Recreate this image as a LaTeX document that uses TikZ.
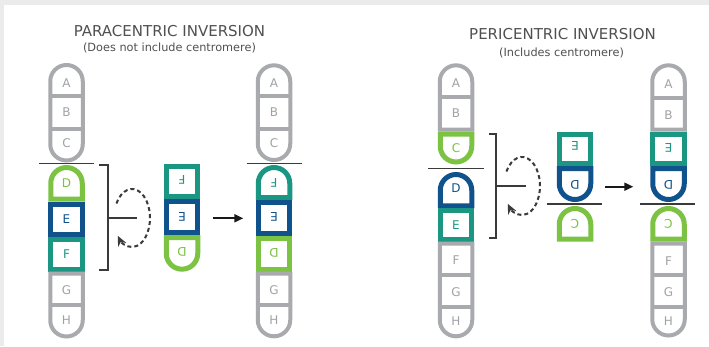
\documentclass[tikz,border=0pt]{standalone}
\usepackage{fontspec}
\setmainfont{DejaVu Sans}
\usetikzlibrary{arrows.meta}
\definecolor{cgray}{HTML}{A9AAAD}
\definecolor{cgreen}{HTML}{7CC243}
\definecolor{cblue}{HTML}{10528C}
\definecolor{cteal}{HTML}{1B9682}
\definecolor{ltxt}{HTML}{A0A2A5}
\definecolor{ttxt}{HTML}{505050}
\definecolor{bgstrip}{HTML}{EBEBEB}
\definecolor{darkln}{HTML}{3A3A3A}
\newcommand{\SqBlk}[4]{\draw[cblk=#4] ({#1-15.75},{#2+2.5}) rectangle ({#1+15.75},{#3-2.5});}
\newcommand{\RtBlk}[4]{\draw[cblk=#4] ({#1-15.75},{#3-2.5}) -- ({#1-15.75},{#2+18.25}) arc[start angle=180,end angle=0,radius=15.75pt] -- ({#1+15.75},{#3-2.5}) -- cycle;}
\newcommand{\RbBlk}[4]{\draw[cblk=#4] ({#1-15.75},{#2+2.5}) -- ({#1-15.75},{#3-18.25}) arc[start angle=180,end angle=360,radius=15.75pt] -- ({#1+15.75},{#2+2.5}) -- cycle;}
\newcommand{\GArmBoth}[3]{\draw[garm] ({#1-16.25},{#3-18.25}) -- ({#1-16.25},{#2+18.25}) arc[start angle=180,end angle=0,radius=16.25pt] -- ({#1+16.25},{#3-18.25}) arc[start angle=0,end angle=-180,radius=16.25pt] -- cycle;}
\newcommand{\GArmTop}[3]{\draw[garm] ({#1-16.25},{#3-2}) -- ({#1-16.25},{#2+18.25}) arc[start angle=180,end angle=0,radius=16.25pt] -- ({#1+16.25},{#3-2}) -- cycle;}
\newcommand{\GArmBot}[3]{\draw[garm] ({#1-16.25},{#2+2}) -- ({#1-16.25},{#3-18.25}) arc[start angle=180,end angle=360,radius=16.25pt] -- ({#1+16.25},{#2+2}) -- cycle;}
\newcommand{\GDiv}[2]{\draw[garm] ({#1-16.25},#2) -- ({#1+16.25},#2);}
\begin{document}
\begin{tikzpicture}[x=1pt,y=-1pt,
  cblk/.style={line width=5pt, draw=#1, fill=white},
  garm/.style={line width=4pt, draw=cgray, fill=white},
  cenline/.style={line width=1.5pt, draw=darkln},
  brk/.style={line width=2pt, draw=darkln},
  rotarr/.style={line width=2pt, draw=darkln, dash pattern=on 4pt off 3pt, -{Stealth[length=10pt,width=9pt]}},
  harr/.style={line width=1.8pt, draw=black!90, -{Triangle[length=9pt,width=8pt]}},
  lt/.style={font=\fontsize{12}{14}\selectfont, inner sep=0pt, text=ltxt},
  ttl/.style={font=\fontsize{15}{18}\selectfont, inner sep=0pt, text=ttxt},
  sub/.style={font=\fontsize{11.3}{13}\selectfont, inner sep=0pt, text=ttxt}]
\useasboundingbox (0,0) rectangle (709,346);
\fill[white] (0,0) rectangle (709,346);
\fill[bgstrip] (0,0) rectangle (709,5);
\fill[bgstrip] (0,0) rectangle (4,346);
% titles
\node[ttl] (t1) at (169.5,31) {PARACENTRIC INVERSION};
\node[sub] (s1) at (169.5,47.5) {(Does not include centromere)};
\node[ttl] (t2) at (562.5,34.5) {PERICENTRIC INVERSION};
\node[sub] (s2) at (561.5,52.5) {(Includes centromere)};
% ---------- paracentric, original
\GArmBoth{66.5}{63}{162.5} \GDiv{66.5}{96} \GDiv{66.5}{129}
\RtBlk{66.5}{165}{201.5}{cgreen}
\SqBlk{66.5}{201.5}{236.5}{cblue}
\SqBlk{66.5}{236.5}{271.5}{cteal}
\GArmBot{66.5}{271.5}{338.5} \GDiv{66.5}{305}
\draw[cenline] (39,163.7) -- (94,163.7);
\node[lt] (pLA) at (66.5,83.5) {A};
\node[lt] (pLB) at (66.5,112.5) {B};
\node[lt] (pLC) at (66.5,143.5) {C};
\node[lt,text=cgreen] (pLD) at (66.5,183) {D};
\node[lt,text=cblue] (pLE) at (66.5,219) {E};
\node[lt,text=cteal] (pLF) at (66.5,254.5) {F};
\node[lt] (pLG) at (66.5,290) {G};
\node[lt] (pLH) at (66.5,320) {H};
% bracket and rotation
\draw[brk] (99,165) -- (107.7,165) -- (107.7,270) -- (99,270);
\draw[brk] (107.7,218.3) -- (136.7,218.3);
\draw[rotarr] ([shift={(150:18pt and 29pt)}]132,218) arc[start angle=150,end angle=-142,x radius=18pt,y radius=29pt];
% ---------- paracentric, inverted segment
\SqBlk{182}{164}{199.3}{cteal}
\SqBlk{182}{199.3}{235}{cblue}
\RbBlk{182}{235}{271.7}{cgreen}
\node[lt,text=cteal,rotate=180] (pMF) at (182,180) {F};
\node[lt,text=cblue,rotate=180] (pME) at (182,216.7) {E};
\node[lt,text=cgreen,rotate=180] (pMD) at (182,251.7) {D};
\coordinate (pA1) at (213.3,218.3);
\coordinate (pA2) at (243.3,218.3);
\draw[harr] (pA1) -- (pA2);
% ---------- paracentric, result
\GArmBoth{274}{63.3}{162} \GDiv{274}{96} \GDiv{274}{129}
\RtBlk{274}{165}{200}{cteal}
\SqBlk{274}{200}{235.7}{cblue}
\SqBlk{274}{235.7}{271.7}{cgreen}
\GArmBot{274}{271.7}{338.3} \GDiv{274}{305}
\draw[cenline] (246.7,163.7) -- (301.7,163.7);
\node[lt] (pRA) at (274,83.5) {A};
\node[lt] (pRB) at (274,112.5) {B};
\node[lt] (pRC) at (274,143.5) {C};
\node[lt,text=cteal,rotate=180] (pRF) at (274,183) {F};
\node[lt,text=cblue,rotate=180] (pRE) at (274,217) {E};
\node[lt,text=cgreen,rotate=180] (pRD) at (274,253) {D};
\node[lt] (pRG) at (274,290.5) {G};
\node[lt] (pRH) at (274,320) {H};
% ---------- pericentric, original
\GArmTop{456}{63.3}{131.7} \GDiv{456}{97}
\RbBlk{456}{131.7}{164.5}{cgreen}
\draw[cenline] (428,168.3) -- (483.5,168.3);
\RtBlk{456}{172}{208.3}{cblue}
\SqBlk{456}{208.3}{241.7}{cteal}
\GArmBot{456}{241.7}{338.3} \GDiv{456}{275} \GDiv{456}{306.7}
\node[lt] (qLA) at (456,83.5) {A};
\node[lt] (qLB) at (456,113) {B};
\node[lt,text=cgreen] (qLC) at (456,148.5) {C};
\node[lt,text=cblue] (qLD) at (456,188) {D};
\node[lt,text=cteal] (qLE) at (456,225) {E};
\node[lt] (qLF) at (456,260) {F};
\node[lt] (qLG) at (456,292) {G};
\node[lt] (qLH) at (456,321) {H};
\draw[brk] (489,134) -- (496,134) -- (496,238.3) -- (489,238.3);
\draw[brk] (496,186) -- (526,186);
\draw[rotarr] ([shift={(150:18pt and 29pt)}]522,186) arc[start angle=150,end angle=-142,x radius=18pt,y radius=29pt];
% ---------- pericentric, inverted segment
\SqBlk{575}{131.7}{166}{cteal}
\RbBlk{575}{166}{202}{cblue}
\draw[cenline] (546.7,204.2) -- (601.7,204.2);
\RtBlk{575}{206}{241.7}{cgreen}
\node[lt,text=cteal,rotate=180] (qME) at (575,146) {E};
\node[lt,text=cblue,rotate=180] (qMD) at (575,185) {D};
\node[lt,text=cgreen,rotate=180] (qMC) at (575,224) {C};
\coordinate (qA1) at (605,186.7);
\coordinate (qA2) at (633.3,186.7);
\draw[harr] (qA1) -- (qA2);
% ---------- pericentric, result
\GArmTop{668.5}{63.3}{131.7} \GDiv{668.5}{98}
\SqBlk{668.5}{131.7}{166}{cteal}
\RbBlk{668.5}{166}{202}{cblue}
\draw[cenline] (640,204) -- (695,204);
\RtBlk{668.5}{206}{241.7}{cgreen}
\GArmBot{668.5}{241.7}{337.5} \GDiv{668.5}{275} \GDiv{668.5}{306.7}
\node[lt] (qRA) at (668.5,84) {A};
\node[lt] (qRB) at (668.5,115) {B};
\node[lt,text=cteal,rotate=180] (qRE) at (668.5,147.5) {E};
\node[lt,text=cblue,rotate=180] (qRD) at (668.5,185) {D};
\node[lt,text=cgreen,rotate=180] (qRC) at (668.5,224) {C};
\node[lt] (qRF) at (668.5,261) {F};
\node[lt] (qRG) at (668.5,292) {G};
\node[lt] (qRH) at (668.5,321) {H};
\end{tikzpicture}
\end{document}
